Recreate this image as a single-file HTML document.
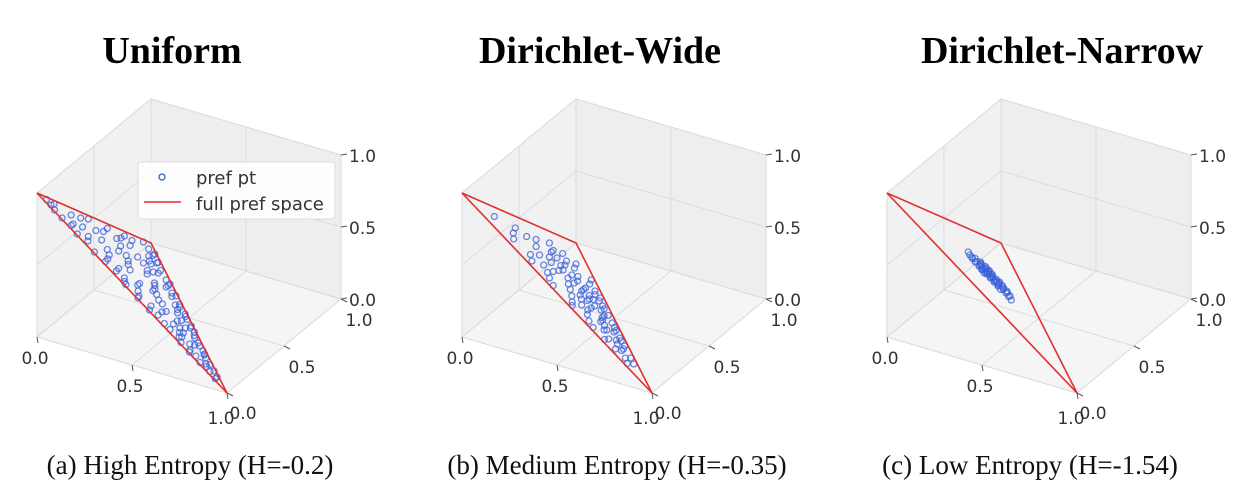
<!DOCTYPE html>
<html><head><meta charset="utf-8">
<style>
html,body{margin:0;padding:0;background:#fff;}
svg{display:block;}
.title{font-family:"Liberation Serif",serif;font-weight:bold;font-size:38px;fill:#000;}
.cap{font-family:"Liberation Serif",serif;font-size:27px;fill:#111;}
.tick{font-family:"DejaVu Sans","Liberation Sans",sans-serif;font-size:17px;fill:#333;}
.leg{font-family:"DejaVu Sans","Liberation Sans",sans-serif;font-size:18px;fill:#333;}
</style></head>
<body>
<svg id="chart" width="1250" height="502" viewBox="0 0 1250 502" xmlns="http://www.w3.org/2000/svg">
<text class="title" x="172" y="63" text-anchor="middle">Uniform</text>
<text class="title" x="600" y="63" text-anchor="middle">Dirichlet-Wide</text>
<text class="title" x="1062" y="63" text-anchor="middle">Dirichlet-Narrow</text>
<text class="cap" x="190" y="474" text-anchor="middle">(a) High Entropy (H=-0.2)</text>
<text class="cap" x="617" y="474" text-anchor="middle">(b) Medium Entropy (H=-0.35)</text>
<text class="cap" x="1030" y="474" text-anchor="middle">(c) Low Entropy (H=-1.54)</text>
</svg>
<script>
// data: preference points as [x, y], z = 1 - x - y
const uniformPts = [[0.02,0.05],[0.03,0.1],[0.05,0.04],[0.06,0.2],[0.08,0.02],[0.1,0.35],[0.12,0.2],[0.15,0.05],[0.14,0.5],[0.18,0.15],[0.2,0.6],[0.22,0.08],[0.24,0.4],[0.26,0.7],[0.28,0.5],[0.3,0.12],[0.32,0.6],[0.33,0.05],[0.35,0.45],[0.36,0.62],[0.38,0.55],[0.4,0.1],[0.4,0.35],[0.42,0.55],[0.44,0.48],[0.45,0.03],[0.46,0.3],[0.48,0.5],[0.5,0.4],[0.5,0.06],[0.52,0.45],[0.54,0.1],[0.55,0.35],[0.56,0.42],[0.58,0.02],[0.6,0.3],[0.6,0.38],[0.62,0.22],[0.64,0.05],[0.65,0.3],[0.66,0.15],[0.68,0.28],[0.7,0.08],[0.7,0.26],[0.72,0.14],[0.74,0.03],[0.75,0.22],[0.76,0.2],[0.78,0.18],[0.8,0.06],[0.82,0.15],[0.84,0.03],[0.86,0.12],[0.88,0.05],[0.9,0.08],[0.92,0.03],[0.1,0.65],[0.12,0.78],[0.15,0.8],[0.18,0.7],[0.2,0.75],[0.08,0.45],[0.05,0.75],[0.04,0.55],[0.1,0.85],[0.2,0.45],[0.25,0.55],[0.3,0.65],[0.02,0.9],[0.06,0.88],[0.03,0.4],[0.16,0.3],[0.22,0.25],[0.27,0.35],[0.34,0.15],[0.38,0.4],[0.43,0.05],[0.47,0.45],[0.52,0.02],[0.57,0.28],[0.63,0.33],[0.67,0.05],[0.71,0.2],[0.79,0.02],[0.83,0.1],[0.13,0.1],[0.17,0.6],[0.23,0.68],[0.29,0.02],[0.31,0.3],[0.37,0.08],[0.41,0.2],[0.46,0.12],[0.53,0.25],[0.59,0.08],[0.61,0.18],[0.69,0.12],[0.73,0.24],[0.77,0.06],[0.85,0.07],[0.08,0.9],[0.14,0.83],[0.28,0.7],[0.35,0.6],[0.44,0.52],[0.5,0.47],[0.58,0.38],[0.04,0.7],[0.09,0.55],[0.19,0.4],[0.26,0.2],[0.33,0.48],[0.39,0.25],[0.12,0.02],[0.2,0.02],[0.05,0.3],[0.07,0.62],[0.16,0.72],[0.24,0.62],[0.42,0.35],[0.48,0.3],[0.55,0.18],[0.65,0.2]];
const widePts = [[0.08,0.15],[0.1,0.3],[0.12,0.45],[0.1,0.6],[0.15,0.2],[0.15,0.55],[0.18,0.35],[0.18,0.7],[0.2,0.12],[0.2,0.5],[0.22,0.62],[0.24,0.28],[0.25,0.45],[0.26,0.7],[0.27,0.15],[0.28,0.55],[0.3,0.35],[0.3,0.62],[0.32,0.08],[0.32,0.48],[0.33,0.25],[0.34,0.6],[0.35,0.4],[0.36,0.15],[0.37,0.55],[0.38,0.3],[0.38,0.58],[0.4,0.45],[0.4,0.1],[0.41,0.52],[0.42,0.25],[0.43,0.4],[0.44,0.5],[0.45,0.05],[0.45,0.35],[0.46,0.48],[0.47,0.18],[0.48,0.42],[0.5,0.3],[0.5,0.45],[0.52,0.1],[0.52,0.38],[0.53,0.22],[0.55,0.4],[0.55,0.05],[0.56,0.3],[0.57,0.15],[0.58,0.37],[0.6,0.25],[0.6,0.35],[0.62,0.08],[0.62,0.3],[0.64,0.18],[0.65,0.3],[0.66,0.05],[0.68,0.22],[0.7,0.12],[0.7,0.26],[0.72,0.05],[0.73,0.2],[0.75,0.15],[0.76,0.08],[0.78,0.18],[0.8,0.1],[0.82,0.14],[0.84,0.05],[0.13,0.35],[0.17,0.5],[0.22,0.4],[0.26,0.35],[0.29,0.48],[0.31,0.2],[0.35,0.5],[0.39,0.4],[0.43,0.32],[0.47,0.38],[0.51,0.2],[0.54,0.33],[0.58,0.25],[0.63,0.22],[0.67,0.28],[0.71,0.18],[0.14,0.65],[0.19,0.6],[0.23,0.52],[0.28,0.42],[0.33,0.38],[0.37,0.45],[0.42,0.45],[0.46,0.28]];
const narrowPts = [[0.22,0.36],[0.23,0.39],[0.24,0.35],[0.25,0.37],[0.25,0.41],[0.26,0.34],[0.26,0.39],[0.27,0.36],[0.27,0.42],[0.28,0.34],[0.28,0.39],[0.29,0.36],[0.29,0.41],[0.3,0.34],[0.3,0.38],[0.31,0.36],[0.31,0.41],[0.32,0.34],[0.32,0.39],[0.33,0.36],[0.33,0.41],[0.34,0.34],[0.34,0.38],[0.35,0.36],[0.35,0.4],[0.36,0.34],[0.36,0.38],[0.37,0.36],[0.38,0.39],[0.38,0.34],[0.39,0.37],[0.4,0.39],[0.41,0.36],[0.43,0.35],[0.24,0.42],[0.26,0.43],[0.28,0.43],[0.3,0.33],[0.32,0.32],[0.34,0.42],[0.36,0.41],[0.29,0.38],[0.31,0.38],[0.33,0.38],[0.27,0.38],[0.35,0.38],[0.37,0.4],[0.39,0.4],[0.23,0.36],[0.3,0.42],[0.45,0.34],[0.2,0.38],[0.42,0.38],[0.4,0.33]];
const tickLabels = ["0.0","0.5","1.0"];
const tickVals = [0,0.5,1];
const panelData = [uniformPts, widePts, narrowPts];

const NS = "http://www.w3.org/2000/svg";
const svg = document.getElementById('chart');
function mk(tag, attrs, parent){const e=document.createElementNS(NS,tag);for(const k in attrs)e.setAttribute(k,attrs[k]);(parent||svg).appendChild(e);return e;}
const EX=[190,56], EY=[114,-94], EZ=[0,-144];

for(let k=0;k<3;k++){
  const ox=37+425*k, oy=337;
  const P=(x,y,z)=>[ox+x*EX[0]+y*EY[0]+z*EZ[0], oy+x*EX[1]+y*EY[1]+z*EZ[1]];
  const g=mk('g',{});
  
  
  const poly=(pts,fill,name)=>{const p=mk('polygon',{points:pts.map(q=>q.join(',')).join(' '),fill:fill,stroke:'#e2e2e2','stroke-width':1},g);};
  poly([P(0,0,0),P(1,0,0),P(1,1,0),P(0,1,0)],'#f5f5f5','floor-pane');
  poly([P(0,0,0),P(0,1,0),P(0,1,1),P(0,0,1)],'#f1f1f1','left-pane');
  poly([P(0,1,0),P(1,1,0),P(1,1,1),P(0,1,1)],'#eeeeee','back-pane');
  const ln=(a,b,name,col,w)=>{const l=mk('line',{x1:a[0],y1:a[1],x2:b[0],y2:b[1],stroke:col||'#dcdcdc','stroke-width':w||1},g);return l;};
  tickVals.forEach(v=>{
    ln(P(v,0,0),P(v,1,0),'grid-floor-x');ln(P(v,1,0),P(v,1,1),'grid-back-x');
    ln(P(0,v,0),P(1,v,0),'grid-floor-y');ln(P(0,v,0),P(0,v,1),'grid-left-y');
    ln(P(0,1,v),P(1,1,v),'grid-back-z');ln(P(0,0,v),P(0,1,v),'grid-left-z');
  });
  tickVals.forEach((v,i)=>{
    let a=P(v,0,0); ln(a,[a[0]+1,a[1]+6],'x-tick','#555');
    let t=mk('text',{x:a[0]-2+(i==2?-4:0),y:a[1]+27+(i==2?4:0),'text-anchor':'middle',class:'tick'},g);t.textContent=tickLabels[i];
    
    a=P(1,v,0); ln(a,[a[0]+6,a[1]+3],'y-tick','#555');
    t=mk('text',{x:a[0]+18+(i==0?-2:0),y:a[1]+27+(i==0?-1:0),'text-anchor':'middle',class:'tick'},g);t.textContent=tickLabels[i];
    
    a=P(1,1,v); ln(a,[a[0]+6,a[1]-1],'z-tick','#555');
    t=mk('text',{x:a[0]+8,y:a[1]+7,'text-anchor':'start',class:'tick'},g);t.textContent=tickLabels[i];
    
  });
  panelData[k].forEach(d=>{
    const q=P(d[0],d[1],1-d[0]-d[1]);
    const c=mk('circle',{cx:q[0],cy:q[1],r:3,fill:'none',stroke:'#3a5fd9','stroke-width':1.3,'stroke-opacity':0.75},g);
    
    
  });
  const tri=[P(0,0,1),P(1,0,0),P(0,1,0)];
  const tp=mk('polygon',{points:tri.map(q=>q.join(',')).join(' '),fill:'none',stroke:'#e03030','stroke-width':1.6},g);
  
  
}
const lg=mk('g',{});


mk('rect',{x:138,y:162,width:197,height:57,rx:3,fill:'#fff','fill-opacity':0.85,stroke:'#ddd'},lg);
const lc=mk('circle',{cx:162,cy:177,r:3,fill:'none',stroke:'#3a5fd9','stroke-width':1.3},lg);


const lt1=mk('text',{x:196,y:184,class:'leg'},lg);lt1.textContent='pref pt';


const ll=mk('line',{x1:144,y1:202,x2:181,y2:202,stroke:'#e03030','stroke-width':1.6},lg);


const lt2=mk('text',{x:196,y:210,class:'leg'},lg);lt2.textContent='full pref space';


</script>
</body></html>
